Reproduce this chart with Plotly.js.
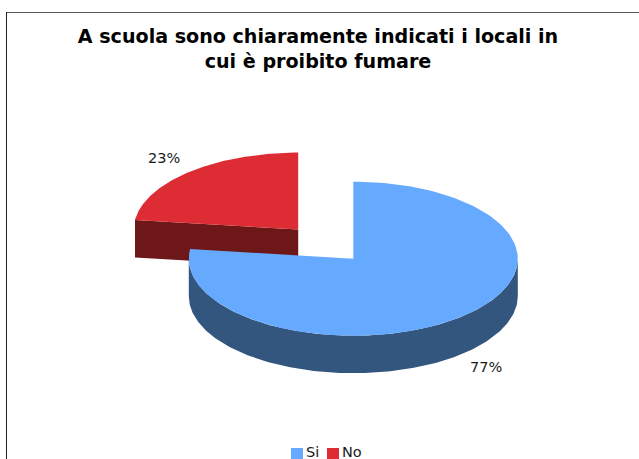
<!DOCTYPE html>
<html>
<head>
<meta charset="utf-8">
<script src="https://cdn.plot.ly/plotly-3.0.1.min.js"></script>
<style>html,body{margin:0;padding:0;background:#fff;overflow:hidden}</style>
</head>
<body>
<div id="chart" style="width:639px;height:459px"></div>
<script>
const categories = ["Si", "No"];
const values = [77, 23];
const titleText = "A scuola sono chiaramente indicati i locali in<br>cui è proibito fumare";
const topColors = ["#66AAFF", "#DD2C33"];
const wallColors = ["#33567F", "#6E1719"];

// Projection of the tilted pie, in page pixels
const FONT = "DejaVu Sans, sans-serif";
const rx = 164.5, ry = 77, depth = 37.5;
const blueCentre = [353.3, 258.7];
const redCentre = [298.2, 229.6];

const total = values.reduce((a, b) => a + b, 0);
const sweep = values.map(v => v / total * 2 * Math.PI);
const startBlue = 0, endBlue = sweep[0];
const startRed = endBlue, endRed = endBlue + sweep[1];

function pt(c, a, dy) { return [c[0] + rx * Math.sin(a), c[1] - ry * Math.cos(a) + (dy || 0)]; }
function arc(c, a0, a1, dy) {
  const out = [], n = 180;
  for (let i = 0; i <= n; i++) out.push(pt(c, a0 + (a1 - a0) * i / n, dy));
  return out;
}
function poly(points, color, name) {
  return { type: "scatter", mode: "lines", x: points.map(p => p[0]), y: points.map(p => p[1]),
           fill: "toself", fillcolor: color, line: { width: 0, color: color },
           name: name, showlegend: false, hoverinfo: "name" };
}

const redEdge = pt(redCentre, startRed);
const traces = [
  // No: cut face, then top
  poly([redEdge, redCentre, [redCentre[0], redCentre[1] + depth], [redEdge[0], redEdge[1] + depth]], wallColors[1], categories[1]),
  poly([redCentre].concat(arc(redCentre, startRed, endRed)), topColors[1], categories[1]),
  // Si: outer wall, then top
  poly(arc(blueCentre, Math.PI / 2, Math.min(endBlue, 1.5 * Math.PI)).concat(
       arc(blueCentre, Math.min(endBlue, 1.5 * Math.PI), Math.PI / 2, depth)), wallColors[0], categories[0]),
  poly([blueCentre].concat(arc(blueCentre, startBlue, endBlue)), topColors[0], categories[0])
];

function label(text, x, y, anchor) {
  return { xref: "x", yref: "y", x: x, y: y, text: text, showarrow: false, xanchor: anchor || "center",
           yanchor: "middle", font: { family: FONT, size: 14.5, color: "#1a1a1a" } };
}
const annotations = [
  label(values[1] + "%", 164, 158),
  label(values[0] + "%", 486, 367),
  label(categories[0], 304, 452, "left"),
  label(categories[1], 340, 452, "left")
];
function rect(x0, y0, x1, y1, c) {
  return { type: "rect", xref: "x", yref: "y", x0: x0, y0: y0, x1: x1, y1: y1, fillcolor: c, line: { width: 0 }, layer: "above" };
}
const shapes = [
  { type: "line", xref: "x", yref: "y", x0: 6, y0: 12.5, x1: 639, y1: 12.5, line: { color: "#555", width: 1 } },
  { type: "line", xref: "x", yref: "y", x0: 6.5, y0: 12, x1: 6.5, y1: 459, line: { color: "#222", width: 1 } },
  rect(291, 448, 303, 460, topColors[0]),
  rect(327, 448, 339, 460, topColors[1])
];

const layout = {
  width: 639, height: 459, margin: { l: 0, r: 0, t: 0, b: 0 },
  paper_bgcolor: "#fff", plot_bgcolor: "#fff", showlegend: false,
  title: { text: titleText, font: { family: FONT, size: 19.1, color: "#000", weight: "bold" },
           x: 318 / 639, xanchor: "center", xref: "paper", y: 1 - 43 / 459, yanchor: "bottom", yref: "paper", automargin: false },
  xaxis: { range: [0, 639], visible: false, fixedrange: true },
  yaxis: { range: [459, 0], visible: false, fixedrange: true },
  annotations: annotations, shapes: shapes
};
Plotly.newPlot("chart", traces, layout, { displayModeBar: false, staticPlot: true });
</script>
</body>
</html>
